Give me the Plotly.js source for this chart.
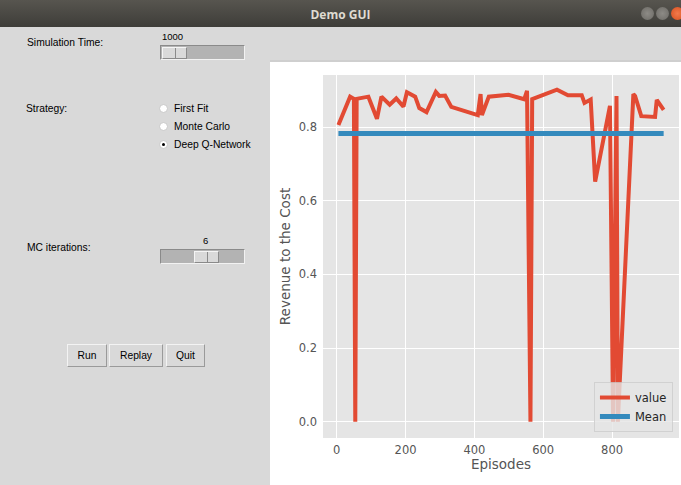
<!DOCTYPE html>
<html>
<head>
<meta charset="utf-8">
<script src="https://cdn.plot.ly/plotly-3.0.1.min.js"></script>
<style>
  html, body { margin:0; padding:0; width:681px; height:485px; overflow:hidden; background:#d9d9d9; }
  #titlebar { position:absolute; left:0; top:0; width:681px; height:27px;
    background:linear-gradient(#57554f, #3e3d39); }
  #titlebar .t { position:absolute; left:0; width:681px; top:6px; text-align:center;
    font-family:"Open Sans", sans-serif; font-weight:bold; font-size:12px; color:#dfdbd2; }
  .wb { position:absolute; top:7px; width:13px; height:13px; border-radius:50%; }
  .ui { position:absolute; font-family:"Liberation Sans", Arial, sans-serif; font-size:10.3px; color:#000; white-space:nowrap; }
  .trough { position:absolute; background:#b3b3b3; box-sizing:border-box;
    border:1px solid; border-color:#8a8a8a #f2f2f2 #f2f2f2 #8a8a8a; }
  .handle { position:absolute; top:1px; height:12px; background:#d9d9d9; box-sizing:border-box;
    border:1px solid; border-color:#f5f5f5 #8a8a8a #8a8a8a #f5f5f5; }
  .handle .div { position:absolute; left:50%; top:0; width:1px; height:100%; background:#8a8a8a; }
  .radio { position:absolute; width:9px; height:9px; border-radius:50%; background:#fff; box-sizing:border-box;
    border:1px solid #c8c8c8; }
  .radio .dot { position:absolute; left:2px; top:2px; width:3px; height:3px; border-radius:50%; background:#000; }
  .btn { position:absolute; background:#d9d9d9; box-sizing:border-box; border:1px solid;
    border-color:#f3f3f3 #9a9a9a #9a9a9a #f3f3f3; text-align:center; line-height:21px;
    font-family:"Liberation Sans", Arial, sans-serif; font-size:10.3px; }
  #chartwrap { position:absolute; left:270px; top:62px; width:411px; height:423px; background:#fff; }
  #sep { position:absolute; left:270px; top:60px; width:411px; height:2px; background:#cfcfcf; }
</style>
</head>
<body>
<div id="titlebar">
  <div class="t">Demo GUI</div>
  <div class="wb" style="left:641px; background:radial-gradient(#8d8b86,#6c6a65);"></div>
  <div class="wb" style="left:656px; background:radial-gradient(#8d8b86,#6c6a65);"></div>
  <div class="wb" style="left:671px; background:radial-gradient(#f27a4c,#d7501f);"></div>
</div>

<div class="ui" style="left:27px; top:37px;">Simulation Time:</div>
<div class="ui" style="left:162px; top:31px; font-size:9.5px;">1000</div>
<div class="trough" style="left:160px; top:45px; width:85px; height:15px;">
  <div class="handle" style="left:1px; width:25px;"><div class="div"></div></div>
</div>

<div class="ui" style="left:26px; top:103px;">Strategy:</div>
<div class="radio" style="left:159px; top:104px;"></div>
<div class="ui" style="left:174px; top:103px;">First Fit</div>
<div class="radio" style="left:159px; top:122px;"></div>
<div class="ui" style="left:174px; top:121px;">Monte Carlo</div>
<div class="radio" style="left:159px; top:140px;"><div class="dot"></div></div>
<div class="ui" style="left:174px; top:139px;">Deep Q-Network</div>

<div class="ui" style="left:27px; top:242px;">MC iterations:</div>
<div class="ui" style="left:203px; top:235px; font-size:9.5px;">6</div>
<div class="trough" style="left:160px; top:249px; width:85px; height:15px;">
  <div class="handle" style="left:33px; width:25px;"><div class="div"></div></div>
</div>

<div class="btn" style="left:67px; top:344px; width:40px; height:23px;">Run</div>
<div class="btn" style="left:109px; top:344px; width:54px; height:23px;">Replay</div>
<div class="btn" style="left:166px; top:344px; width:39px; height:23px;">Quit</div>

<div id="sep"></div>
<div id="chartwrap"><div id="chart" style="width:411px;height:423px;"></div></div>

<script>
// Data
const episodes = [5, 39, 50, 54, 58, 92, 117, 130, 154, 173, 194, 204, 228, 240, 261, 288, 298, 315, 333,
  410, 418, 422, 442, 499, 545, 553, 563, 568, 640, 672, 712, 720, 738, 751, 794, 803, 813, 817,
  862, 867, 885, 925, 930, 950];
const revenueToCost = [0.806, 0.883, 0.877, 0.0, 0.877, 0.883, 0.823, 0.883, 0.861, 0.878, 0.856, 0.895,
  0.883, 0.852, 0.841, 0.896, 0.885, 0.886, 0.855, 0.833, 0.890, 0.833, 0.883, 0.888, 0.876, 0.899,
  0.0, 0.876, 0.902, 0.887, 0.887, 0.866, 0.875, 0.652, 0.858, 0.0, 0.885, 0.0, 0.890, 0.885, 0.830,
  0.828, 0.874, 0.847];
const meanEpisodes = [5, 950];
const meanValues = [0.783, 0.783];
const xTicks = [0, 200, 400, 600, 800];
const yTicks = [0.0, 0.2, 0.4, 0.6, 0.8];
const yTickLabels = ['0.0', '0.2', '0.4', '0.6', '0.8'];

const traces = [
  { x: episodes, y: revenueToCost, type: 'scatter', mode: 'lines', name: 'value',
    line: { color: '#E24A33', width: 4 } },
  { x: meanEpisodes, y: meanValues, type: 'scatter', mode: 'lines', name: 'Mean',
    line: { color: '#348ABD', width: 5 } }
];

const tickFont = { family: 'DejaVu Sans, sans-serif', size: 11.5, color: '#555555' };
const layout = {
  width: 411, height: 423,
  margin: { l: 53, r: 2, t: 13, b: 47 },
  paper_bgcolor: '#ffffff', plot_bgcolor: '#E5E5E5',
  showlegend: true,
  legend: { x: 0.983, y: 0.0165, xanchor: 'right', yanchor: 'bottom',
    bgcolor: 'rgba(229,229,229,0.8)', bordercolor: 'rgba(204,204,204,0.8)', borderwidth: 1,
    font: { family: 'DejaVu Sans, sans-serif', size: 11.5, color: '#262626' },
    tracegroupgap: 0, itemwidth: 30 },
  xaxis: { range: [-39.8, 994.6], tickvals: xTicks, showgrid: true, gridcolor: '#ffffff', gridwidth: 1,
    zeroline: false, showline: false, ticks: '', tickfont: tickFont, ticklabelstandoff: 3,
    title: { text: 'Episodes', font: { family: 'DejaVu Sans, sans-serif', size: 13.5, color: '#555555' }, standoff: 4 } },
  yaxis: { range: [-0.0443, 0.9418], tickvals: yTicks, ticktext: yTickLabels, showgrid: true, gridcolor: '#ffffff', gridwidth: 1,
    zeroline: false, showline: false, ticks: '', tickfont: tickFont, ticklabelstandoff: 5,
    title: { text: 'Revenue to the Cost', font: { family: 'DejaVu Sans, sans-serif', size: 13.5, color: '#555555' }, standoff: 4 } }
};

Plotly.newPlot('chart', traces, layout, { displayModeBar: false, staticPlot: true });
</script>
</body>
</html>
